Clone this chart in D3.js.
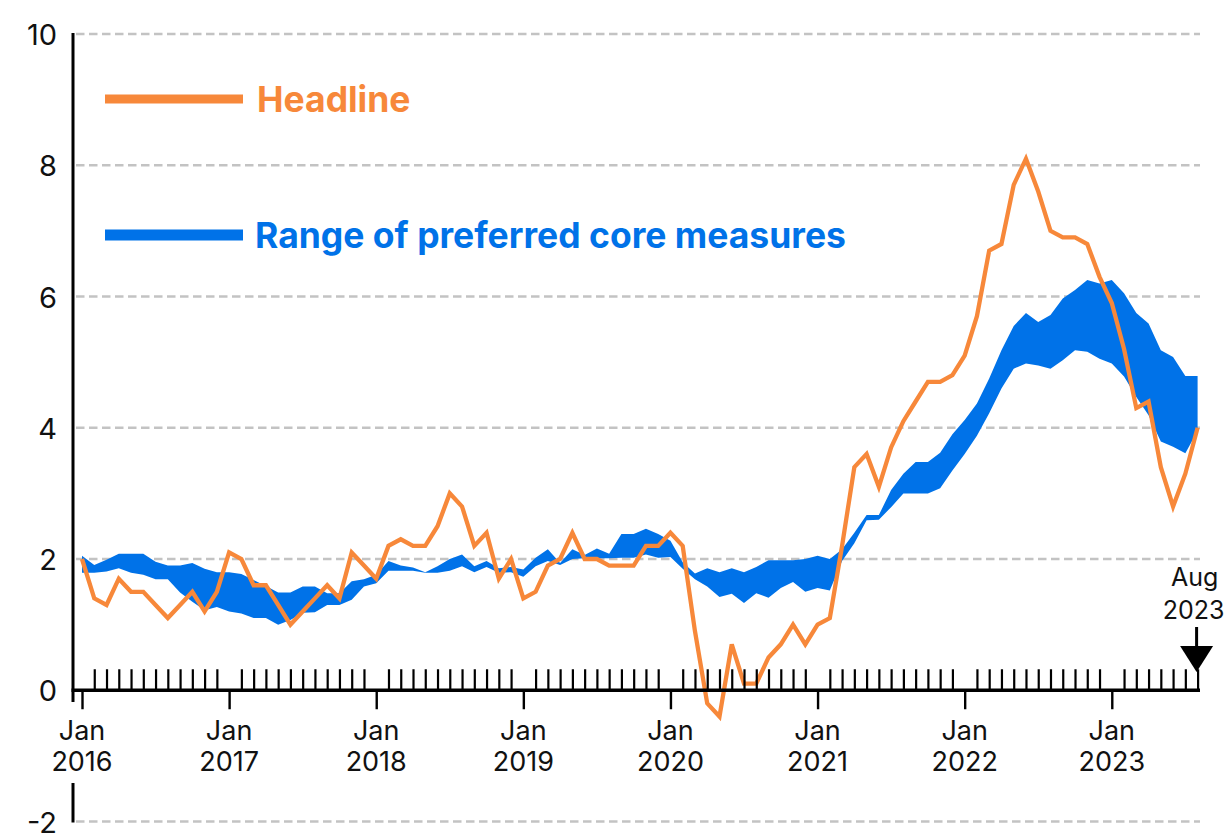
<!DOCTYPE html>
<html>
<head>
<meta charset="utf-8">
<script src="https://cdn.jsdelivr.net/npm/d3@7"></script>
<style>
  html, body { margin: 0; padding: 0; background: #fff; }
  svg { display: block; font-family: Inter, "Noto Sans", sans-serif; }
</style>
</head>
<body>
<svg id="chart" width="1228" height="834"></svg>
<script>
// Months: Jan 2016 .. Aug 2023 (92 monthly observations)
const startYear = 2016;
const headline = [
  2.0, 1.4, 1.3, 1.7, 1.5, 1.5, 1.3, 1.1, 1.3, 1.5, 1.2, 1.5,
  2.1, 2.0, 1.6, 1.6, 1.3, 1.0, 1.2, 1.4, 1.6, 1.4, 2.1, 1.9,
  1.7, 2.2, 2.3, 2.2, 2.2, 2.5, 3.0, 2.8, 2.2, 2.4, 1.7, 2.0,
  1.4, 1.5, 1.9, 2.0, 2.4, 2.0, 2.0, 1.9, 1.9, 1.9, 2.2, 2.2,
  2.4, 2.2, 0.9, -0.2, -0.4, 0.7, 0.1, 0.1, 0.5, 0.7, 1.0, 0.7,
  1.0, 1.1, 2.2, 3.4, 3.6, 3.1, 3.7, 4.1, 4.4, 4.7, 4.7, 4.8,
  5.1, 5.7, 6.7, 6.8, 7.7, 8.1, 7.6, 7.0, 6.9, 6.9, 6.8, 6.3,
  5.9, 5.2, 4.3, 4.4, 3.4, 2.8, 3.3, 4.0
];
const coreHigh = [
  2.05, 1.91, 1.99, 2.08, 2.08, 2.08, 1.96, 1.90, 1.90, 1.94, 1.85, 1.80,
  1.80, 1.77, 1.68, 1.59, 1.49, 1.49, 1.58, 1.58, 1.48, 1.48, 1.66, 1.69,
  1.76, 1.97, 1.90, 1.87, 1.80, 1.89, 2.00, 2.07, 1.89, 1.97, 1.86, 1.88,
  1.84, 2.02, 2.15, 1.94, 2.15, 2.06, 2.16, 2.08, 2.38, 2.38, 2.46, 2.38,
  2.28, 1.95, 1.78, 1.86, 1.80, 1.86, 1.80, 1.88, 1.98, 1.98, 1.98, 2.00,
  2.05, 2.00, 2.15, 2.40, 2.67, 2.67, 3.05, 3.30, 3.48, 3.48, 3.62, 3.90,
  4.12, 4.37, 4.75, 5.18, 5.55, 5.75, 5.61, 5.72, 5.97, 6.10, 6.25, 6.20,
  6.25, 6.05, 5.75, 5.59, 5.18, 5.08, 4.79, 4.79
];
const coreLow = [
  1.79, 1.79, 1.81, 1.86, 1.79, 1.76, 1.69, 1.69, 1.49, 1.35, 1.22, 1.27,
  1.20, 1.17, 1.10, 1.10, 1.00, 1.07, 1.18, 1.19, 1.30, 1.30, 1.38, 1.58,
  1.63, 1.82, 1.82, 1.82, 1.79, 1.79, 1.82, 1.89, 1.80, 1.88, 1.79, 1.80,
  1.73, 1.89, 1.97, 1.91, 2.00, 2.01, 2.01, 2.01, 2.02, 2.02, 2.07, 2.02,
  2.03, 1.85, 1.69, 1.58, 1.42, 1.47, 1.33, 1.48, 1.41, 1.56, 1.65, 1.50,
  1.56, 1.52, 1.97, 2.24, 2.59, 2.60, 2.79, 3.00, 3.00, 3.00, 3.08, 3.35,
  3.60, 3.88, 4.22, 4.60, 4.90, 4.98, 4.95, 4.90, 5.03, 5.18, 5.16, 5.05,
  4.98, 4.78, 4.47, 4.19, 3.79, 3.71, 3.61, 3.95
];
const yearLabels = ["2016", "2017", "2018", "2019", "2020", "2021", "2022", "2023"];
const monthLabel = "Jan";
const yTicks = [-2, 0, 2, 4, 6, 8, 10];
const gridTicks = [-2, 2, 4, 6, 8, 10];
const lastLabel = ["Aug", "2023"];
const legendLabels = ["Headline", "Range of preferred core measures"];

const ORANGE = "#F7883A";
const BLUE = "#0072E8";
const GRID = "#c3c3c3";

const svg = d3.select("#chart");
const n = headline.length;

const x = d3.scaleLinear().domain([0, n - 1]).range([82, 1197.6]);
const y = d3.scaleLinear().domain([-2, 10]).range([821.5, 34]);

// Grid lines
svg.append("g").selectAll("line").data(gridTicks).join("line")
  .attr("x1", 76).attr("x2", 1200)
  .attr("y1", d => y(d)).attr("y2", d => y(d))
  .attr("stroke", GRID).attr("stroke-width", 2.6)
  .attr("stroke-dasharray", "8.5,4.5");

// Core range band
const area = d3.area()
  .x((d, i) => x(i))
  .y0((d, i) => y(coreLow[i]))
  .y1((d, i) => y(coreHigh[i]));
svg.append("path").datum(coreHigh).attr("d", area).attr("fill", BLUE);

// Headline line
const line = d3.line().x((d, i) => x(i)).y(d => y(d));
svg.append("path").datum(headline).attr("d", line)
  .attr("fill", "none").attr("stroke", ORANGE)
  .attr("stroke-width", 4.3).attr("stroke-linejoin", "miter");

// Y axis line (with gap where x labels sit)
svg.append("line").attr("x1", 73).attr("x2", 73)
  .attr("y1", y(10) - 1).attr("y2", 702)
  .attr("stroke", "#000").attr("stroke-width", 3);
svg.append("line").attr("x1", 73).attr("x2", 73)
  .attr("y1", 783).attr("y2", y(-2) + 1)
  .attr("stroke", "#000").attr("stroke-width", 3);

// Y tick labels
svg.append("g").selectAll("text").data(yTicks).join("text")
  .attr("x", 57).attr("y", d => y(d) + 11)
  .attr("text-anchor", "end")
  .attr("font-size", 29).attr("fill", "#111")
  .text(d => d);

// X axis: month ticks (upwards) and January ticks (downwards)
const monthIdx = d3.range(1, n).filter(i => i % 12 !== 0);
const janIdx = d3.range(0, n).filter(i => i % 12 === 0);

const minorAxis = d3.axisBottom(x).tickValues(monthIdx).tickSize(-21).tickFormat("");
const gMinor = svg.append("g").attr("transform", `translate(0,${y(0)})`).call(minorAxis);
gMinor.select(".domain").remove();
gMinor.selectAll(".tick line").attr("stroke", "#000").attr("stroke-width", 2.2);

const majorAxis = d3.axisBottom(x).tickValues(janIdx).tickSize(19).tickFormat("");
const gMajor = svg.append("g").attr("transform", `translate(0,${y(0)})`).call(majorAxis);
gMajor.select(".domain").remove();
gMajor.selectAll(".tick line").attr("stroke", "#000").attr("stroke-width", 2.4);

svg.append("line").attr("x1", 71.5).attr("x2", 1200)
  .attr("y1", y(0)).attr("y2", y(0))
  .attr("stroke", "#000").attr("stroke-width", 3.6);

// X labels
const gl = svg.append("g").attr("font-size", 27).attr("fill", "#111").attr("text-anchor", "middle");
gl.selectAll("text.m").data(janIdx).join("text").attr("class", "m")
  .attr("x", d => x(d)).attr("y", 740).text(monthLabel);
gl.selectAll("text.yr").data(janIdx).join("text").attr("class", "yr")
  .attr("x", d => x(d)).attr("y", 771).text((d, i) => yearLabels[i]);

// Latest observation marker
const xl = x(n - 1) - 1;
const ga = svg.append("g").attr("font-size", 25).attr("fill", "#111").attr("text-anchor", "middle");
ga.append("text").attr("x", xl - 2).attr("y", 586).text(lastLabel[0]);
ga.append("text").attr("x", xl - 3).attr("y", 619).text(lastLabel[1]);
svg.append("line").attr("x1", xl).attr("x2", xl).attr("y1", 627).attr("y2", 650)
  .attr("stroke", "#000").attr("stroke-width", 3);
svg.append("path")
  .attr("d", `M${xl - 16.5},646 L${xl + 16.5},646 L${xl},672 Z`)
  .attr("fill", "#000");

// Legend
const lg = svg.append("g");
lg.append("line").attr("x1", 105).attr("x2", 243).attr("y1", 99).attr("y2", 99)
  .attr("stroke", ORANGE).attr("stroke-width", 9);
lg.append("text").attr("x", 257).attr("y", 112).attr("font-size", 35.5)
  .attr("font-weight", 700).attr("fill", ORANGE).text(legendLabels[0]);
lg.append("line").attr("x1", 105).attr("x2", 243).attr("y1", 235).attr("y2", 235)
  .attr("stroke", BLUE).attr("stroke-width", 11);
lg.append("text").attr("x", 255).attr("y", 248).attr("font-size", 35.5)
  .attr("font-weight", 700).attr("fill", BLUE).text(legendLabels[1]);
</script>
</body>
</html>
